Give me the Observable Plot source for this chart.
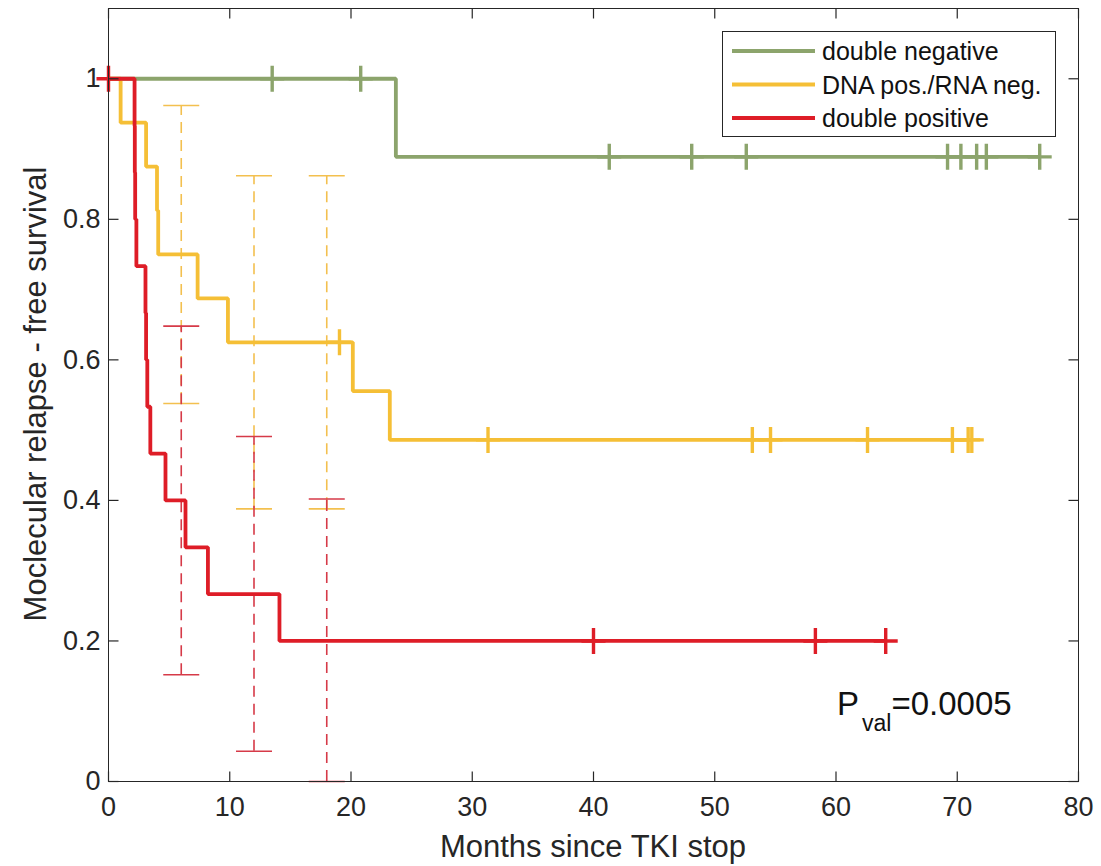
<!DOCTYPE html>
<html><head><meta charset="utf-8">
<script src="https://cdn.jsdelivr.net/npm/d3@7"></script>
<script src="https://cdn.jsdelivr.net/npm/@observablehq/plot@0.6"></script>
<style>
body{margin:0;background:#fff}
#chart{position:relative;width:1101px;height:866px}
</style>
</head><body><div id="chart"></div>
<script>
// ---------------- data ----------------
const seriesNames = ["double negative", "DNA pos./RNA neg.", "double positive"];
const seriesColors = ["#8ca46c", "#f5bf36", "#de1d27"];
const errColors = ["#8ca46c", "#f3c04f", "#d63a48"];

// step points (time, survival after step); the last point is the end of follow-up
const negTimes = [0, 23.7, 76.8];
const negSurv  = [1, 0.8889, 0.8889];
const negCensor = [13.5, 20.8, 41.3, 48.1, 52.6, 69.2, 70.3, 71.6, 72.4, 76.8];

const dnaTimes = [0, 1.0, 3.1, 4.0, 4.1, 7.35, 9.85, 20.15, 23.2, 71.2];
const dnaSurv  = [1, 0.9375, 0.875, 0.8125, 0.75, 0.6875, 0.625, 0.5556, 0.4861, 0.4861];
const dnaCensor = [19.05, 31.3, 53.1, 54.6, 62.6, 69.6, 70.9, 71.2];

const posTimes = [0, 2.15, 2.17, 2.2, 2.3, 3.05, 3.1, 3.2, 3.45, 4.7, 6.35, 8.2, 14.1, 64.1];
const posSurv  = [1, 0.9333, 0.8667, 0.8, 0.7333, 0.6667, 0.6, 0.5333, 0.4667, 0.4, 0.3333, 0.2667, 0.2, 0.2];
const posCensor = [0, 40.0, 58.3, 64.1];

// confidence intervals at fixed time points
const ciTimes = [6, 12, 18];
const dnaLower = [0.538, 0.388, 0.388];
const dnaUpper = [0.962, 0.862, 0.862];
const posLower = [0.152, 0.043, 0.0];
const posUpper = [0.648, 0.491, 0.402];

const xTicks = [0, 10, 20, 30, 40, 50, 60, 70, 80];
const yTicks = [0, 0.2, 0.4, 0.6, 0.8, 1];
const xDomain = [0, 80];
const yDomain = [0, 1.1];

const xLabel = "Months since TKI stop";
const yLabel = "Moclecular relapse - free survival";
const pText = ["P", "val", "=0.0005"];

// ---------------- build tables ----------------
function steps(times, surv, k) { return times.map((t, i) => ({t, s: surv[i], k})); }
function survAt(times, surv, t) { let s = surv[0]; times.forEach((tt, i) => { if (tt <= t) s = surv[i]; }); return s; }
function censors(cens, times, surv, k) { return cens.map(t => ({t, s: survAt(times, surv, t), k})); }

const stepData = [
  steps(negTimes, negSurv, 0),
  steps(dnaTimes, dnaSurv, 1),
  steps(posTimes, posSurv, 2)
];
const censorData = [
  censors(negCensor, negTimes, negSurv, 0),
  censors(dnaCensor, dnaTimes, dnaSurv, 1),
  censors(posCensor, posTimes, posSurv, 2)
];
const ciData = [
  ciTimes.map((t, i) => ({t, lo: dnaLower[i], hi: dnaUpper[i], k: 1})),
  ciTimes.map((t, i) => ({t, lo: posLower[i], hi: posUpper[i], k: 2}))
];

// ---------------- custom symbols ----------------
const plusSym = {draw(c) { c.moveTo(0, -13); c.lineTo(0, 13); c.moveTo(-12, 0); c.lineTo(12, 0); }};
const capSym = {draw(c) { c.moveTo(-18, 0); c.lineTo(18, 0); }};
const tickUp = {draw(c) { c.moveTo(0, 0); c.lineTo(0, -10); }};
const tickDown = {draw(c) { c.moveTo(0, 0); c.lineTo(0, 10); }};
const tickRight = {draw(c) { c.moveTo(0, 0); c.lineTo(10, 0); }};
const tickLeft = {draw(c) { c.moveTo(0, 0); c.lineTo(-10, 0); }};

const axisColor = "#262626";
const marks = [];

// CI bars (drawn under curves)
ciData.forEach(rows => {
  const col = errColors[rows[0].k];
  marks.push(Plot.ruleX(rows, {x: "t", y1: "lo", y2: "hi", stroke: col, strokeWidth: 1.6, strokeDasharray: "11,7"}));
  marks.push(Plot.dot(rows, {x: "t", y: "lo", symbol: capSym, stroke: col, fill: "none", strokeWidth: 1.6}));
  marks.push(Plot.dot(rows, {x: "t", y: "hi", symbol: capSym, stroke: col, fill: "none", strokeWidth: 1.6}));
});

// survival curves
[0, 1, 2].forEach(k => {
  marks.push(Plot.line(stepData[k], {x: "t", y: "s", curve: "step-after", stroke: seriesColors[k], strokeWidth: 3.8, strokeLinejoin: "miter", strokeLinecap: "butt"}));
  marks.push(Plot.dot(censorData[k], {x: "t", y: "s", symbol: plusSym, stroke: seriesColors[k], fill: "none", strokeWidth: 3.4, strokeLinecap: "butt"}));
});

// frame + inward ticks on all sides
marks.push(Plot.frame({stroke: axisColor, strokeWidth: 1}));
marks.push(Plot.dot(xTicks, {x: d => d, y: () => yDomain[0], symbol: tickUp, stroke: axisColor, strokeWidth: 1.2}));
marks.push(Plot.dot(xTicks, {x: d => d, y: () => yDomain[1], symbol: tickDown, stroke: axisColor, strokeWidth: 1.2}));
marks.push(Plot.dot(yTicks, {y: d => d, x: () => xDomain[0], symbol: tickRight, stroke: axisColor, strokeWidth: 1.2}));
marks.push(Plot.dot(yTicks, {y: d => d, x: () => xDomain[1], symbol: tickLeft, stroke: axisColor, strokeWidth: 1.2}));
marks.push(Plot.axisX(xTicks, {tickSize: 0, tickPadding: 15, fontSize: 27, label: null, tickFormat: d => String(d)}));
marks.push(Plot.axisY(yTicks, {tickSize: 0, tickPadding: 8, fontSize: 27, label: null, tickFormat: d => String(d)}));

const chart = Plot.plot({
  width: 1101, height: 866,
  marginLeft: 108, marginRight: 23, marginTop: 8, marginBottom: 85,
  x: {domain: xDomain},
  y: {domain: yDomain},
  style: {fontFamily: "'Liberation Sans', Arial, Helvetica, sans-serif", color: axisColor, background: "white", overflow: "visible"},
  marks
});
document.getElementById("chart").appendChild(chart);

// ---------------- labels, legend, annotation ----------------
const svg = d3.select(chart);
const font = "'Liberation Sans', Arial, Helvetica, sans-serif";

svg.append("text").attr("x", 593).attr("y", 857).attr("text-anchor", "middle")
  .attr("font-family", font).attr("font-size", 31).attr("fill", axisColor).text(xLabel);
svg.append("text").attr("transform", "translate(46,394) rotate(-90)").attr("text-anchor", "middle")
  .attr("font-family", font).attr("font-size", 31).attr("fill", axisColor).text(yLabel);

const lg = svg.append("g").attr("text-anchor", "start");
lg.append("rect").attr("x", 722.5).attr("y", 31.5).attr("width", 333).attr("height", 105)
  .attr("fill", "white").attr("stroke", axisColor).attr("stroke-width", 1);
seriesNames.forEach((name, i) => {
  const yy = 51 + i * 33.5;
  lg.append("line").attr("x1", 732).attr("x2", 815).attr("y1", yy).attr("y2", yy)
    .attr("stroke", seriesColors[i]).attr("stroke-width", 3.8);
  lg.append("text").attr("x", 822).attr("y", yy + 9).attr("text-anchor", "start")
    .attr("font-family", font).attr("font-size", 25).attr("fill", "#111").text(name);
});

const pt = svg.append("text").attr("x", 837).attr("y", 715).attr("text-anchor", "start")
  .attr("font-family", font).attr("font-size", 33).attr("fill", "#111");
pt.append("tspan").text(pText[0]);
pt.append("tspan").attr("font-size", 23).attr("dx", 3).attr("dy", 16).text(pText[1]);
pt.append("tspan").attr("dy", -16).text(pText[2]);
</script>
</body></html>
